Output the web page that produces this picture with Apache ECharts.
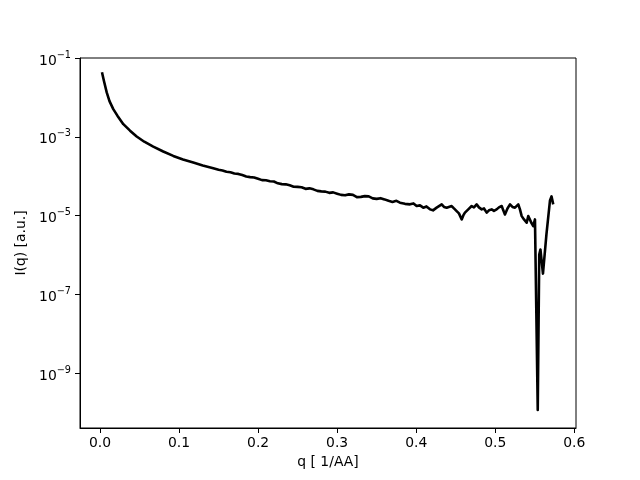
<!DOCTYPE html>
<html>
<head>
<meta charset="utf-8">
<script src="https://cdn.jsdelivr.net/npm/echarts@6/dist/echarts.min.js"></script>
<style>html,body{margin:0;padding:0;background:#fff}#c{width:640px;height:480px}</style>
</head>
<body>
<div id="c"></div>
<script>
const qValues = [
0.0025,0.005,0.0085,0.012,0.0168,0.022,0.0295,0.038,0.0464,0.056,0.0674,0.08,0.0927,0.105,0.118,0.13,0.1433,
0.150,0.155,0.160,0.165,0.170,0.175,0.180,0.185,0.190,0.195,0.200,0.205,0.210,0.215,0.220,0.225,0.230,0.235,0.240,0.245,
0.250,0.255,0.260,0.265,0.270,0.275,0.280,0.285,0.290,0.295,0.300,0.305,0.310,0.315,0.320,0.325,0.330,0.335,0.340,0.345,
0.350,0.355,0.360,0.365,0.370,0.375,
0.3795,0.3858,0.3922,0.3966,0.4006,0.4048,0.409,0.413,0.4175,0.4213,0.4259,0.4323,0.4352,0.4386,0.4449,0.4478,0.4512,0.4541,
0.4576,0.4596,0.4617,0.4659,0.4702,0.4731,0.4765,0.4794,0.4829,0.4858,0.4892,0.4921,0.4955,0.4984,0.5018,0.5047,0.5082,
0.5102,0.5123,0.5155,0.5187,0.5218,0.525,0.5292,0.5313,0.5335,0.5364,0.5398,0.5418,0.544,0.5461,0.5481,0.5503,0.5524,
0.5538,0.5557,0.5572,0.5591,0.5604,0.5648,0.5693,0.5712,0.5734
];
const intensity = [
4.33e-2,2.6e-2,1.34e-2,8.05e-3,5.04e-3,3.44e-3,2.09e-3,1.43e-3,1.02e-3,7.5e-4,5.66e-4,4.23e-4,3.27e-4,2.66e-4,2.22e-4,1.87e-4,1.59e-4,
1.455e-4,1.396e-4,1.294e-4,1.257e-4,1.171e-4,1.144e-4,1.067e-4,9.83e-5,9.49e-5,9.27e-5,8.59e-5,7.96e-5,7.87e-5,7.42e-5,7.33e-5,6.60e-5,6.30e-5,6.22e-5,5.87e-5,5.41e-5,
5.37e-5,5.22e-5,4.78e-5,4.92e-5,4.64e-5,4.25e-5,4.13e-5,4.06e-5,3.78e-5,3.89e-5,3.61e-5,3.36e-5,3.27e-5,3.46e-5,3.36e-5,2.94e-5,2.99e-5,3.12e-5,3.08e-5,2.74e-5,
2.66e-5,2.77e-5,2.58e-5,2.37e-5,2.23e-5,2.37e-5,
2.13e-5,1.99e-5,1.93e-5,2.04e-5,1.75e-5,1.82e-5,1.59e-5,1.71e-5,1.44e-5,1.36e-5,1.59e-5,1.93e-5,1.66e-5,1.59e-5,1.75e-5,1.52e-5,1.30e-5,1.14e-5,
8.0e-6,1.01e-5,1.19e-5,1.44e-5,1.75e-5,1.62e-5,1.93e-5,1.62e-5,1.44e-5,1.52e-5,1.19e-5,1.36e-5,1.44e-5,1.32e-5,1.44e-5,1.62e-5,1.75e-5,
1.36e-5,1.07e-5,1.52e-5,1.93e-5,1.66e-5,1.59e-5,1.93e-5,1.44e-5,9.7e-6,8.0e-6,6.59e-6,9.7e-6,8.85e-6,6.34e-6,5.4e-6,8.0e-6,8.0e-6,
1.17e-10,1.03e-6,1.38e-6,1.55e-6,3.38e-7,3.33e-6,2.44e-5,3.08e-5,1.93e-5
];
const xTicks = [0.0,0.1,0.2,0.3,0.4,0.5,0.6];
const yTicks = [1e-9,1e-7,1e-5,1e-3,1e-1];

const data = qValues.map((q,i)=>[q,intensity[i]]);
const font = 'DejaVu Sans';
const chart = echarts.init(document.getElementById('c'), null, {renderer:'canvas'});
chart.setOption({
  animation:false,
  backgroundColor:'#fff',
  grid:{left:80,top:58,right:64,bottom:52,show:true,borderColor:'#000',borderWidth:1,containLabel:false},
  xAxis:{
    type:'value', min:-0.0253, max:0.6022,
    name:'q [ 1/AA]', nameLocation:'middle', nameGap:25,
    nameTextStyle:{fontFamily:font,fontSize:13.9,color:'#000'},
    axisLine:{show:true,onZero:false,lineStyle:{color:'#000',width:1}},
    axisTick:{show:true,length:5,inside:false,customValues:xTicks,lineStyle:{color:'#000'}},
    axisLabel:{customValues:xTicks,margin:8,fontFamily:font,fontSize:13.9,color:'#000',
      formatter:v=>v.toFixed(1)},
    splitLine:{show:false}
  },
  yAxis:{
    type:'log', logBase:10, min:4.07e-11, max:0.1,
    name:'I(q) [a.u.]', nameLocation:'middle', nameGap:50,
    nameTextStyle:{fontFamily:font,fontSize:13.9,color:'#000'},
    axisLine:{show:true,onZero:false,lineStyle:{color:'#000',width:1}},
    axisTick:{show:true,length:5,inside:false,customValues:yTicks,lineStyle:{color:'#000'}},
    axisLabel:{customValues:yTicks,margin:9,color:'#000',
      formatter:v=>{const e=Math.round(Math.log10(v));return '{b|10}{s|\u2212'+Math.abs(e)+'}';},
      rich:{
        b:{fontFamily:font,fontSize:13.9,color:'#000',padding:[6,0,0,0]},
        s:{fontFamily:font,fontSize:9.7,color:'#000',padding:[0,0,6,0]}
      }},
    splitLine:{show:false}
  },
  series:[{
    type:'line', data:data, showSymbol:false, symbol:'none',
    lineStyle:{color:'#000',width:2.6,join:'round'},
    clip:true
  }]
});
</script>
</body>
</html>
